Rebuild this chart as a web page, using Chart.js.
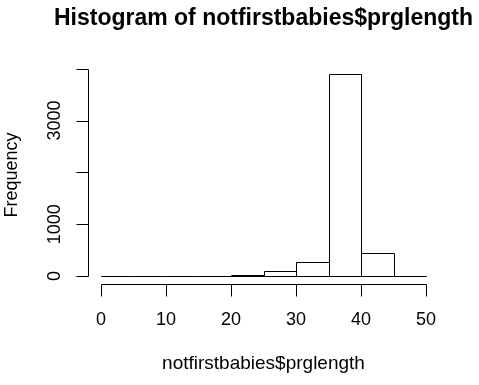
<!DOCTYPE html>
<html>
<head>
<meta charset="utf-8">
<script src="https://cdn.jsdelivr.net/npm/chart.js@4.4.1/dist/chart.umd.min.js"></script>
<style>
  html, body { margin: 0; padding: 0; background: #fff; }
  #wrap { width: 479px; height: 385px; }
</style>
</head>
<body>
<div id="wrap"><canvas id="c" width="479" height="385"></canvas></div>
<script>
// Histogram bins (left edges, width 5) and frequencies
const binStarts = [0, 5, 10, 15, 20, 25, 30, 35, 40, 45];
const binWidth = 5;
const frequencies = [1, 1, 2, 5, 14, 97, 270, 3898, 438, 6];
const xTicks = [0, 10, 20, 30, 40, 50];
const xTickLabels = ['0', '10', '20', '30', '40', '50'];
const yTicks = [0, 1000, 2000, 3000, 4000];
const yTickLabels = ['0', '1000', '', '3000', ''];
const titleText = 'Histogram of notfirstbabies$prglength';
const xTitle = 'notfirstbabies$prglength';
const yTitle = 'Frequency';

const FONT = '"Liberation Sans", Arial, Helvetica, sans-serif';

const points = binStarts.map((s, i) => ({ x: s + binWidth / 2, y: frequencies[i] }));

// Crisp R-style outlines for each bar, from the bar elements Chart.js laid out
const barOutline = {
  id: 'barOutline',
  afterDatasetsDraw(chart) {
    const ctx = chart.ctx;
    const meta = chart.getDatasetMeta(0);
    ctx.save();
    ctx.strokeStyle = '#000';
    ctx.lineWidth = 1;
    meta.data.forEach(bar => {
      const p = bar.getProps(['x', 'y', 'base', 'width'], true);
      const l = Math.round(p.x - p.width / 2) + 0.5;
      const r = Math.round(p.x + p.width / 2) + 0.5;
      const t = Math.round(p.y) + 0.5;
      const b = Math.round(p.base) + 0.5;
      ctx.beginPath();
      ctx.rect(l, t, r - l, b - t);
      ctx.stroke();
    });
    ctx.restore();
  }
};

const rAxes = {
  id: 'rAxes',
  afterDraw(chart) {
    const ctx = chart.ctx;
    const xs = chart.scales.x, ys = chart.scales.y;
    const area = chart.chartArea;
    ctx.save();
    ctx.strokeStyle = '#000';
    ctx.fillStyle = '#000';
    ctx.lineWidth = 1;
    const tickLen = 12;

    // x axis
    const xb = Math.round(area.bottom) + 0.5;
    const x0 = Math.round(xs.getPixelForValue(xTicks[0])) + 0.5;
    const x1 = Math.round(xs.getPixelForValue(xTicks[xTicks.length - 1])) + 0.5;
    ctx.beginPath();
    ctx.moveTo(x0, xb); ctx.lineTo(x1, xb);
    xTicks.forEach(v => {
      const px = Math.round(xs.getPixelForValue(v)) + 0.5;
      ctx.moveTo(px, xb); ctx.lineTo(px, xb + tickLen);
    });
    ctx.stroke();
    ctx.font = '18px ' + FONT;
    ctx.textAlign = 'center';
    ctx.textBaseline = 'middle';
    xTicks.forEach((v, i) => {
      ctx.fillText(xTickLabels[i], xs.getPixelForValue(v), 320);
    });

    // y axis
    const yl = Math.round(area.left) + 0.5;
    const y0 = Math.round(ys.getPixelForValue(yTicks[0])) + 0.5;
    const y1 = Math.round(ys.getPixelForValue(yTicks[yTicks.length - 1])) + 0.5;
    ctx.beginPath();
    ctx.moveTo(yl, y0); ctx.lineTo(yl, y1);
    yTicks.forEach(v => {
      const py = Math.round(ys.getPixelForValue(v)) + 0.5;
      ctx.moveTo(yl, py); ctx.lineTo(yl - tickLen, py);
    });
    ctx.stroke();
    yTicks.forEach((v, i) => {
      if (!yTickLabels[i]) return;
      ctx.save();
      ctx.translate(55, ys.getPixelForValue(v));
      ctx.rotate(-Math.PI / 2);
      ctx.fillText(yTickLabels[i], 0, 0);
      ctx.restore();
    });

    // axis titles
    ctx.font = '19px ' + FONT;
    ctx.fillText(xTitle, (area.left + area.right) / 2, 364);
    ctx.font = '18px ' + FONT;
    ctx.save();
    ctx.translate(12, (area.top + area.bottom) / 2);
    ctx.rotate(-Math.PI / 2);
    ctx.fillText(yTitle, 0, 0);
    ctx.restore();

    // main title
    ctx.font = 'bold 23px ' + FONT;
    ctx.fillText(titleText, (area.left + area.right) / 2, 19);
    ctx.restore();
  }
};

new Chart(document.getElementById('c'), {
  type: 'bar',
  data: {
    datasets: [{
      data: points,
      backgroundColor: '#ffffff',
      borderColor: '#000000',
      borderWidth: 0,
      barPercentage: 1,
      categoryPercentage: 1,
      grouped: false
    }]
  },
  options: {
    responsive: false,
    animation: false,
    devicePixelRatio: 1,
    layout: { padding: { left: 88, right: 40, top: 66, bottom: 101 } },
    plugins: { legend: { display: false }, tooltip: { enabled: false }, title: { display: false } },
    scales: {
      x: { type: 'linear', min: -2, max: 52, display: false, offset: false },
      y: { type: 'linear', min: -156, max: 4054, display: false }
    }
  },
  plugins: [barOutline, rAxes]
});
</script>
</body>
</html>
